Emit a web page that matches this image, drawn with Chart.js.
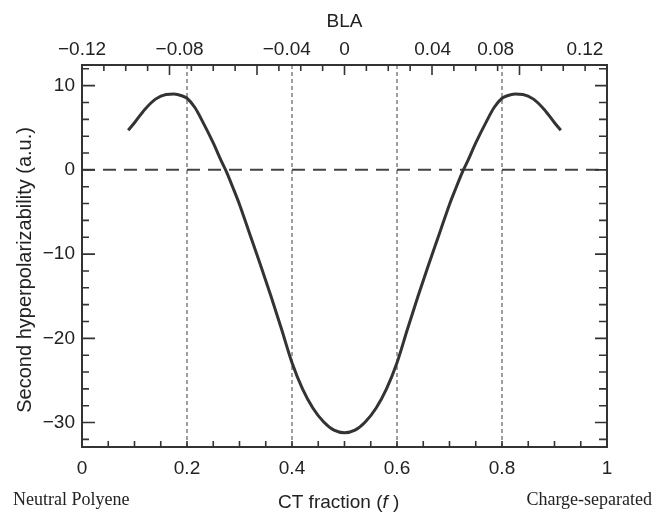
<!DOCTYPE html>
<html>
<head>
<meta charset="utf-8">
<script src="https://cdn.jsdelivr.net/npm/chart.js@4"></script>
<style>
  html, body { margin: 0; padding: 0; background: #fff; }
  #wrap { width: 655px; height: 512px; }
</style>
</head>
<body>
<div id="wrap"><canvas id="betaChart" width="655" height="512"></canvas></div>
<script>
// CT fraction (f) vs second hyperpolarizability
const ctFraction = [0.088, 0.10, 0.12, 0.14, 0.16, 0.175, 0.19, 0.20, 0.215, 0.23, 0.25, 0.265, 0.275, 0.29, 0.30,
  0.32, 0.34, 0.36, 0.38, 0.40, 0.42, 0.44, 0.46, 0.48, 0.50, 0.52, 0.54, 0.56, 0.58, 0.60, 0.62, 0.64, 0.66,
  0.68, 0.70, 0.71, 0.725, 0.735, 0.75, 0.77, 0.785, 0.80, 0.81, 0.825, 0.84, 0.86, 0.88, 0.90, 0.912];
const hyperpol = [4.7, 5.6, 7.2, 8.4, 8.95, 9.0, 8.8, 8.5, 7.4, 5.7, 3.2, 1.1, -0.2, -2.5, -4.1,
  -7.7, -11.3, -15.0, -18.9, -22.9, -26.0, -28.3, -29.9, -30.9, -31.2, -30.9, -29.9, -28.3, -26.0, -22.9, -18.9, -15.0, -11.3,
  -7.7, -4.1, -2.5, -0.2, 1.1, 3.2, 5.7, 7.4, 8.5, 8.8, 9.0, 8.95, 8.4, 7.2, 5.6, 4.7];

// reference lines
const dottedAt = [0.2, 0.4, 0.6, 0.8];
const zeroLine = 0;

// axis ticks
const ctTicks = [0, 0.2, 0.4, 0.6, 0.8, 1];
const ctTickLabels = ['0', '0.2', '0.4', '0.6', '0.8', '1'];
const yTicks = [-30, -20, -10, 0, 10];
const yTickLabels = ['\u221230', '\u221220', '\u221210', '0', '10'];
// BLA labels on the top axis and where they sit in CT fraction
const blaPos = [0, 0.186, 0.39, 0.5, 0.668, 0.788, 0.958];
const blaLabels = ['\u22120.12', '\u22120.08', '\u22120.04', '0', '0.04', '0.08', '0.12'];

const yMin = -32.9, yMax = 12.45;
const ink = '#333';

const datasets = [{
  data: ctFraction.map((x, i) => ({ x: x, y: hyperpol[i] })),
  borderColor: '#333',
  borderWidth: 3,
  pointRadius: 0,
  cubicInterpolationMode: 'monotone',
  order: 0
}, {
  data: [{ x: 0, y: zeroLine }, { x: 1, y: zeroLine }],
  borderColor: '#444',
  borderWidth: 2,
  borderDash: [13, 8],
  pointRadius: 0,
  order: 2
}];
dottedAt.forEach(v => datasets.push({
  data: [{ x: v, y: yMin }, { x: v, y: yMax }],
  borderColor: '#777',
  borderWidth: 1.4,
  borderDash: [4, 3],
  pointRadius: 0,
  order: 3
}));

// frame, inward ticks, bottom texts
const framePlugin = {
  id: 'frame',
  afterDraw(chart) {
    const { ctx, chartArea: a, scales } = chart;
    ctx.save();
    ctx.strokeStyle = ink;
    ctx.lineWidth = 2;
    ctx.strokeRect(a.left, a.top, a.right - a.left, a.bottom - a.top);
    ctx.lineWidth = 1.6;
    ctx.beginPath();
    // bottom ticks every 0.05
    for (let k = 1; k < 20; k++) {
      const px = scales.x.getPixelForValue(k * 0.05);
      ctx.moveTo(px, a.bottom); ctx.lineTo(px, a.bottom - 6);
    }
    // top ticks every 1/24, longer every 1/6
    for (let k = 1; k < 24; k++) {
      const px = scales.x2.getPixelForValue(k / 24);
      const len = k % 4 === 0 ? 10 : 6;
      ctx.moveTo(px, a.top); ctx.lineTo(px, a.top + len);
    }
    // left / right ticks every 2, longer every 10
    for (let v = -32; v <= 12; v += 2) {
      const py = scales.y.getPixelForValue(v);
      const major = v % 10 === 0;
      ctx.moveTo(a.left, py); ctx.lineTo(a.left + (major ? 13 : 7), py);
      ctx.moveTo(a.right, py); ctx.lineTo(a.right - (major ? 12 : 8), py);
    }
    ctx.stroke();

    ctx.fillStyle = '#222';
    ctx.textBaseline = 'alphabetic';
    ctx.textAlign = 'left';
    // CT fraction (f) with italic f
    const sans = '19px "Liberation Sans", Arial, sans-serif';
    const sansIt = 'italic 19px "Liberation Sans", Arial, sans-serif';
    const parts = [['CT fraction (', sans], ['f', sansIt], [' )', sans]];
    let x = 278;
    parts.forEach(p => { ctx.font = p[1]; ctx.fillText(p[0], x, 508); x += ctx.measureText(p[0]).width; });
    ctx.font = '18px "Liberation Serif", "Times New Roman", serif';
    ctx.fillText('Neutral Polyene', 13, 505);
    ctx.textAlign = 'right';
    ctx.fillText('Charge-separated', 652, 505);
    ctx.restore();
  }
};

const tickFont = { family: '"Liberation Sans", Arial, sans-serif', size: 19 };

new Chart(document.getElementById('betaChart'), {
  type: 'line',
  data: { datasets: datasets },
  options: {
    responsive: false,
    animation: false,
    layout: { padding: { right: 48, left: 0, top: 0, bottom: 0 } },
    plugins: { legend: { display: false }, tooltip: { enabled: false } },
    scales: {
      x: {
        type: 'linear', position: 'bottom', min: 0, max: 1,
        grid: { display: false, drawTicks: false },
        border: { display: false },
        afterBuildTicks: s => { s.ticks = ctTicks.map(v => ({ value: v })); },
        afterFit: s => { s.height = 65; },
        ticks: { autoSkip: false, maxRotation: 0, padding: 10, color: '#222', font: tickFont,
          callback: (v, i) => ctTickLabels[i] }
      },
      x2: {
        type: 'linear', position: 'top', min: 0, max: 1,
        grid: { display: false, drawTicks: false },
        border: { display: false },
        afterBuildTicks: s => { s.ticks = blaPos.map(v => ({ value: v })); },
        afterFit: s => { s.height = 65; },
        title: { display: true, text: 'BLA', color: '#222', font: { family: tickFont.family, size: 19 }, padding: { top: 10, bottom: 0 } },
        ticks: { autoSkip: false, maxRotation: 0, padding: 4, color: '#222', font: tickFont,
          callback: (v, i) => blaLabels[i] }
      },
      y: {
        type: 'linear', position: 'left', min: yMin, max: yMax,
        grid: { display: false, drawTicks: false },
        border: { display: false },
        afterBuildTicks: s => { s.ticks = yTicks.map(v => ({ value: v })); },
        afterFit: s => { s.width = 82; },
        title: { display: true, text: 'Second hyperpolarizability (a.u.)     ', color: '#222',
          font: { family: tickFont.family, size: 20 }, padding: { top: 13, bottom: 0 } },
        ticks: { padding: 7, color: '#222', font: tickFont,
          callback: (v, i) => yTickLabels[i] }
      }
    }
  },
  plugins: [framePlugin]
});
</script>
</body>
</html>
